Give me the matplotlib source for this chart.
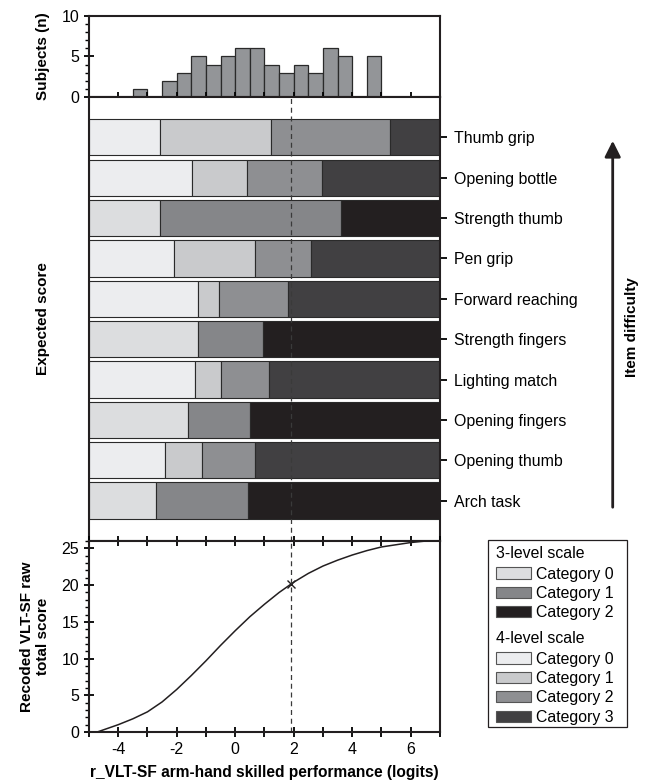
"""Item map: subject histogram, category thresholds per item and expected score curve."""

import matplotlib

matplotlib.use("Agg")
import matplotlib.pyplot as plt
from matplotlib.patches import FancyArrowPatch, Patch, Rectangle
from matplotlib.ticker import MultipleLocator

plt.rcParams["font.family"] = ["Liberation Sans", "DejaVu Sans"]
plt.rcParams["font.size"] = 11.4
plt.rcParams["axes.unicode_minus"] = False

# subjects per 0.5-logit bin (left edges)
bin_left = [-3.5, -2.5, -2.0, -1.5, -1.0, -0.5, 0.0, 0.5, 1.0, 1.5, 2.0, 2.5, 3.0, 3.5, 4.5]
subjects = [1, 2, 3, 5, 4, 5, 6, 6, 4, 3, 4, 3, 6, 5, 5]
bin_width = 0.5

# items from bottom to top, number of levels and category thresholds (logits)
items = ["Arch task", "Opening thumb", "Opening fingers", "Lighting match",
         "Strength fingers", "Forward reaching", "Pen grip", "Strength thumb",
         "Opening bottle", "Thumb grip"]
levels = [3, 4, 3, 4, 3, 4, 4, 3, 4, 4]
thresholds = [
    [-2.72, 0.44],
    [-2.41, -1.15, 0.66],
    [-1.63, 0.49],
    [-1.39, -0.49, 1.14],
    [-1.27, 0.96],
    [-1.29, -0.54, 1.80],
    [-2.09, 0.66, 2.60],
    [-2.58, 3.62],
    [-1.49, 0.39, 2.97],
    [-2.58, 1.22, 5.30],
]

# expected raw total score vs person measure
logits = [-4.72, -4.0, -3.5, -3.0, -2.5, -2.0, -1.5, -1.0, -0.5, 0.0, 0.5, 1.0,
          1.5, 2.0, 2.5, 3.0, 3.5, 4.0, 4.5, 5.0, 5.5, 6.0, 6.5]
score = [0.0, 1.0, 1.8, 2.75, 4.1, 5.8, 7.7, 9.7, 11.8, 13.8, 15.7, 17.4,
         19.0, 20.4, 21.6, 22.6, 23.4, 24.1, 24.7, 25.2, 25.5, 25.8, 26.0]
marker_logit = 1.92
marker_score = 20.2

x_min, x_max = -5, 7
colors3 = ["#dcdddf", "#858689", "#231f20"]
colors4 = ["#ecedef", "#c9cacc", "#8e8f92", "#414042"]
edge = "#2a2a2a"
ink = "#231f20"
spine_w = 1.5
label_fs = 11

fig = plt.figure(figsize=(6.5, 7.82), dpi=100)
left, width = 0.1369, 0.54
ax_top = fig.add_axes([left, 0.8760, width, 0.1036])
ax_mid = fig.add_axes([left, 0.3082, width, 0.5678])
ax_bot = fig.add_axes([left, 0.0639, width, 0.2442])

for axis in (ax_top, ax_mid, ax_bot):
    axis.set_xlim(x_min, x_max)
    for spine in axis.spines.values():
        spine.set_linewidth(spine_w)
        spine.set_color(ink)

# ------------------------------------------------------------------
# Histogram
# ------------------------------------------------------------------
ax_top.bar(bin_left, subjects, width=bin_width, align="edge",
           color="#939598", edgecolor=edge, linewidth=0.9)
ax_top.set_ylim(0, 10)
ax_top.set_yticks([0, 5, 10])
ax_top.yaxis.set_minor_locator(MultipleLocator(1))
ax_top.xaxis.set_major_locator(MultipleLocator(2))
ax_top.xaxis.set_minor_locator(MultipleLocator(1))
ax_top.tick_params(axis="x", which="both", direction="inout", length=7, width=1.3,
                   labelbottom=False, top=False)
ax_top.tick_params(axis="y", which="major", direction="inout", length=7, width=1.3,
                   labelsize=11.5)
ax_top.tick_params(axis="y", which="minor", direction="out", length=3, width=1.0)
ax_top.set_ylabel("Subjects (n)", fontweight="bold", fontsize=label_fs)
ax_top.yaxis.set_label_coords(-0.11, 0.5)

# ------------------------------------------------------------------
# Item thresholds
# ------------------------------------------------------------------
for row, (item, n_levels, cuts) in enumerate(zip(items, levels, thresholds)):
    palette = colors3 if n_levels == 3 else colors4
    bounds = [x_min] + cuts + [x_max]
    for cat in range(n_levels):
        ax_mid.barh(row, bounds[cat + 1] - bounds[cat], left=bounds[cat], height=0.9,
                    color=palette[cat], edgecolor=edge, linewidth=0.8)
ax_mid.axvline(marker_logit, color="#3a3a3a", linestyle=(0, (4, 3)), linewidth=0.9)
ax_mid.set_ylim(-1, 10)
ax_mid.set_yticks(range(len(items)), labels=items)
ax_mid.yaxis.tick_right()
ax_mid.tick_params(axis="y", direction="out", length=5, width=1.3, pad=5, labelsize=11.4,
                   left=False)
ax_mid.tick_params(axis="x", which="both", bottom=False, top=False, labelbottom=False)
ax_mid.set_ylabel("Expected score", fontweight="bold", fontsize=label_fs)
ax_mid.yaxis.set_label_position("left")
ax_mid.yaxis.set_label_coords(-0.11, 0.5)

# ------------------------------------------------------------------
# Expected score curve
# ------------------------------------------------------------------
ax_bot.plot(logits, score, color=ink, linewidth=1.1)
ax_bot.plot(marker_logit, marker_score, marker="x", color=ink, markersize=6,
            markeredgewidth=1.0)
ax_bot.axvline(marker_logit, color="#3a3a3a", linestyle=(0, (4, 3)), linewidth=0.9)
ax_bot.set_ylim(0, 26)
ax_bot.yaxis.set_major_locator(MultipleLocator(5))
ax_bot.yaxis.set_minor_locator(MultipleLocator(1))
ax_bot.xaxis.set_major_locator(MultipleLocator(2))
ax_bot.xaxis.set_minor_locator(MultipleLocator(1))
ax_bot.tick_params(axis="x", which="both", direction="inout", length=7, width=1.3,
                   top=True, labelsize=11.5)
ax_bot.tick_params(axis="y", which="major", direction="inout", length=7, width=1.3,
                   labelsize=11.5)
ax_bot.tick_params(axis="y", which="minor", direction="out", length=3, width=1.0)
ax_bot.set_ylabel("Recoded VLT-SF raw\ntotal score", fontweight="bold", fontsize=label_fs)
ax_bot.yaxis.set_label_coords(-0.11, 0.5)
ax_bot.set_xlabel("r_VLT-SF arm-hand skilled performance (logits)", fontweight="bold",
                  fontsize=11.2, labelpad=6)

# ------------------------------------------------------------------
# Item difficulty arrow
# ------------------------------------------------------------------
fig.add_artist(FancyArrowPatch(
    (612.7 / 650, 1 - 510 / 782), (612.7 / 650, 1 - 138 / 782),
    transform=fig.transFigure, arrowstyle="-|>,head_length=6,head_width=3",
    mutation_scale=1.6, color=ink, linewidth=2.0))
fig.text(632 / 650, 1 - 327 / 782, "Item difficulty", rotation=90, ha="center",
         va="center", fontweight="bold", fontsize=label_fs)

# ------------------------------------------------------------------
# Legend
# ------------------------------------------------------------------
h3 = [Patch(facecolor=c, edgecolor="#555555", linewidth=0.8) for c in colors3]
h4 = [Patch(facecolor=c, edgecolor="#555555", linewidth=0.8) for c in colors4]
legend_kw = dict(frameon=False, fontsize=11.4, title_fontsize=11.4, alignment="left",
                 handlelength=2.2, handleheight=0.7, handletextpad=0.35,
                 labelspacing=0.28, borderpad=0.0, borderaxespad=0.0)
leg3 = fig.legend(h3, [f"Category {i}" for i in range(3)], title="3-level scale",
                  loc="upper left", bbox_to_anchor=(496 / 650, 1 - 546 / 782), **legend_kw)
leg4 = fig.legend(h4, [f"Category {i}" for i in range(4)], title="4-level scale",
                  loc="upper left", bbox_to_anchor=(496 / 650, 1 - 631 / 782), **legend_kw)
for leg in (leg3, leg4):
    leg._legend_box.sep = 4
fig.add_artist(Rectangle((488 / 650, 1 - 727 / 782), (627 - 488) / 650, (727 - 540) / 782,
                         transform=fig.transFigure, fill=False, edgecolor=ink,
                         linewidth=0.9))

fig.savefig("out.png", dpi=100)
plt.close(fig)
